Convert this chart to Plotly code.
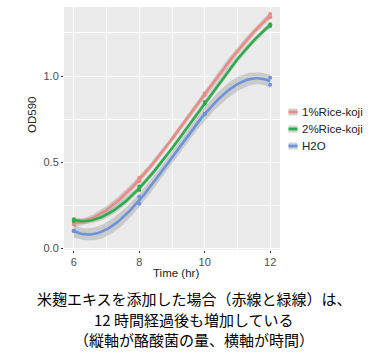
import numpy as np
import plotly.graph_objects as go

# ---- data ----
time_hr = [6, 6, 8, 8, 10, 10, 12, 12]
series_names = ["1%Rice-koji", "2%Rice-koji", "H2O"]
od_rice1 = [0.15, 0.14, 0.41, 0.39, 0.90, 0.89, 1.36, 1.34]
od_rice2 = [0.17, 0.16, 0.34, 0.36, 0.85, 0.84, 1.30, 1.29]
od_h2o = [0.105, 0.10, 0.30, 0.26, 0.78, 0.78, 0.99, 0.95]
x_ticks = [6, 8, 10, 12]
y_ticks = [0.0, 0.5, 1.0]
y_tick_labels = ["0.0", "0.5", "1.0"]
caption_lines = [
    "米麹エキスを添加した場合（赤線と緑線）は、",
    "12 時間経過後も増加している",
    "（縦軸が酪酸菌の量、横軸が時間）",
]

colors = ["#EC8A86", "#2EAD4B", "#6B93DB"]
series_values = [od_rice1, od_rice2, od_h2o]

# plot-area geometry in pixels (for paper-coordinate conversion)
L, R, T, B = 64, 280, 7, 250
W, H = 388, 354


def px(x):
    return (x - L) / (R - L)


def py(y):
    return (B - y) / (B - T)


def smooth_fit(x, y, deg=3, n=120):
    x = np.asarray(x, float)
    y = np.asarray(y, float)
    X = np.vander(x, deg + 1)
    beta, *_ = np.linalg.lstsq(X, y, rcond=None)
    resid = y - X @ beta
    dof = len(x) - (deg + 1)
    s2 = float(resid @ resid) / dof
    XtX_inv = np.linalg.inv(X.T @ X)
    xs = np.linspace(x.min(), x.max(), n)
    Xs = np.vander(xs, deg + 1)
    fit = Xs @ beta
    se = np.sqrt(np.einsum("ij,jk,ik->i", Xs, XtX_inv, Xs) * s2)
    tval = 2.776  # t(0.975, df=4)
    return xs, fit, fit - tval * se, fit + tval * se


fig = go.Figure()

# ribbons
for vals in series_values:
    xs, fit, lo, hi = smooth_fit(time_hr, vals)
    fig.add_trace(go.Scatter(x=xs, y=lo, mode="lines", line=dict(width=0),
                             showlegend=False, hoverinfo="skip"))
    fig.add_trace(go.Scatter(x=xs, y=hi, mode="lines", line=dict(width=0),
                             fill="tonexty", fillcolor="rgba(153,153,153,0.4)",
                             showlegend=False, hoverinfo="skip"))

# points and smooth lines
for name, vals, c in zip(series_names, series_values, colors):
    fig.add_trace(go.Scatter(x=time_hr, y=vals, mode="markers",
                             marker=dict(color=c, size=4), showlegend=False))
    xs, fit, lo, hi = smooth_fit(time_hr, vals)
    fig.add_trace(go.Scatter(x=xs, y=fit, mode="lines", name=name,
                             line=dict(color=c, width=2.6), showlegend=False))

shapes = []
annotations = []

# manual ggplot-style legend
legend_y = [112, 129, 146]
for name, c, yy in zip(series_names, colors, legend_y):
    shapes.append(dict(type="rect", xref="paper", yref="paper",
                       x0=px(288.5), x1=px(297.5), y0=py(yy + 3.5), y1=py(yy - 3.5),
                       fillcolor="#D2D2D2", line=dict(width=0)))
    shapes.append(dict(type="rect", xref="paper", yref="paper",
                       x0=px(288.5), x1=px(297.5), y0=py(yy + 1.4), y1=py(yy - 1.4),
                       fillcolor=c, line=dict(width=0)))
    annotations.append(dict(text=name, xref="paper", yref="paper",
                            x=px(300), y=py(yy), xanchor="left", yanchor="middle",
                            showarrow=False,
                            font=dict(family="Liberation Sans, Arial", size=11.5,
                                      color="#222222")))

# axis titles
annotations.append(dict(text="Time (hr)", xref="paper", yref="paper",
                        x=px(176), y=py(273), xanchor="center", yanchor="middle",
                        showarrow=False,
                        font=dict(family="Liberation Sans, Arial", size=11.5,
                                  color="#222222")))
annotations.append(dict(text="OD590", xref="paper", yref="paper",
                        x=px(32), y=py(115), xanchor="center", yanchor="middle",
                        textangle=-90, showarrow=False,
                        font=dict(family="Liberation Sans, Arial", size=11.5,
                                  color="#222222")))

# caption
for line, yy in zip(caption_lines, [298, 319, 340]):
    annotations.append(dict(text=line, xref="paper", yref="paper",
                            x=px(194), y=py(yy), xanchor="center", yanchor="middle",
                            showarrow=False,
                            font=dict(family="Noto Sans CJK JP", size=15,
                                      color="#000000")))

axis_common = dict(
    showgrid=True, gridcolor="white", gridwidth=1.3, zeroline=False,
    showline=False, ticks="outside", ticklen=2, tickcolor="#333333",
    tickfont=dict(family="Liberation Sans, Arial", size=11, color="#4D4D4D"),
)

fig.update_layout(
    width=W, height=H,
    margin=dict(l=L, r=W - R, t=T, b=H - B),
    paper_bgcolor="white",
    plot_bgcolor="#EBEBEB",
    showlegend=False,
    xaxis=dict(range=[5.7, 12.3], tickvals=x_ticks,
               minor=dict(tickvals=[7, 9, 11], showgrid=True, gridcolor="white",
                          gridwidth=0.6, ticks=""),
               **axis_common),
    yaxis=dict(range=[-0.008, 1.40], tickvals=y_ticks, ticktext=y_tick_labels,
               minor=dict(tickvals=[0.25, 0.75, 1.25], showgrid=True,
                          gridcolor="white", gridwidth=0.6, ticks=""),
               **axis_common),
    shapes=shapes,
    annotations=annotations,
)

fig.write_html("out.html")
